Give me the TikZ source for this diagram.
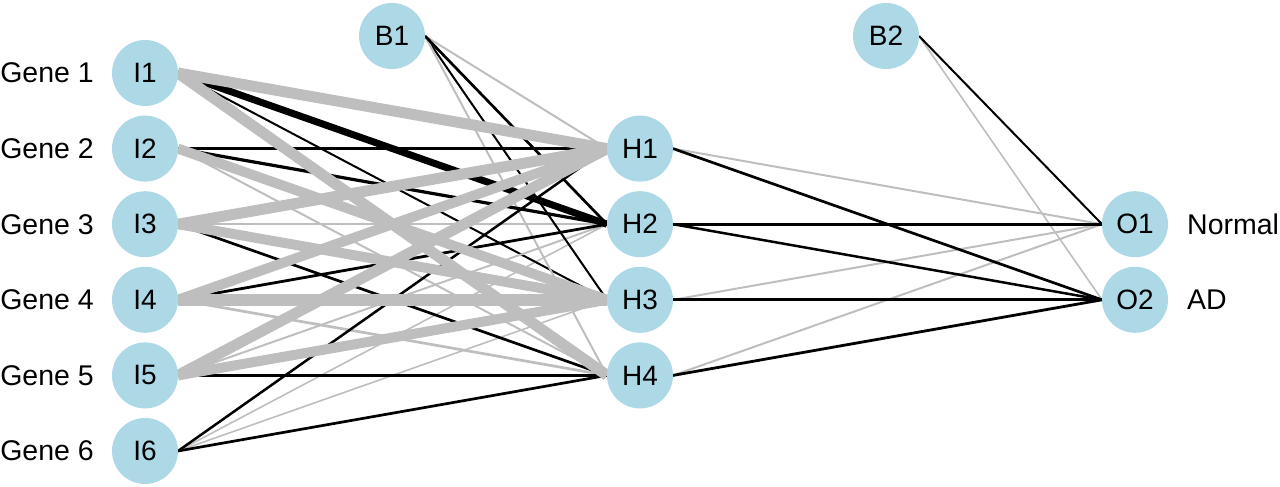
\documentclass[tikz,border=0pt]{standalone}
\usepackage{fontspec}
\setmainfont{Liberation Sans}
\definecolor{nodeblue}{HTML}{ADD8E6}
\definecolor{wgrey}{HTML}{BEBEBE}
\pgfdeclarelayer{bg}
\pgfsetlayers{bg,main}
\tikzset{
  neuron/.style={circle, fill=nodeblue, minimum size=66pt, inner sep=0pt, outer sep=0pt,
    font=\fontsize{28}{30}\selectfont},
  lbl/.style={inner sep=0pt, font=\fontsize{28.5}{30}\selectfont},
  posw/.style={draw=black, line width=#1},
  negw/.style={draw=wgrey, line width=#1},
}
\begin{document}
\begin{tikzpicture}[x=1pt,y=-1pt]
\useasboundingbox (0,0) rectangle (1280,487);
% input nodes
\node[neuron] (I1) at (145,73) {I1};
\node[neuron] (I2) at (145,148.6) {I2};
\node[neuron] (I3) at (145,224.2) {I3};
\node[neuron] (I4) at (145,299.8) {I4};
\node[neuron] (I5) at (145,375.4) {I5};
\node[neuron] (I6) at (145,451) {I6};
% hidden
\node[neuron] (H1) at (640,148.6) {H1};
\node[neuron] (H2) at (640,224.2) {H2};
\node[neuron] (H3) at (640,299.8) {H3};
\node[neuron] (H4) at (640,375.4) {H4};
% outputs
\node[neuron] (O1) at (1135,224.2) {O1};
\node[neuron] (O2) at (1135,299.8) {O2};
% biases
\node[neuron] (B1) at (392,36) {B1};
\node[neuron] (B2) at (886,36) {B2};
% labels
\node[lbl, anchor=east] (g1) at (94,73) {Gene 1};
\node[lbl, anchor=east] (g2) at (94,148.6) {Gene 2};
\node[lbl, anchor=east] (g3) at (94,224.2) {Gene 3};
\node[lbl, anchor=east] (g4) at (94,299.8) {Gene 4};
\node[lbl, anchor=east] (g5) at (94,375.4) {Gene 5};
\node[lbl, anchor=east] (g6) at (94,451) {Gene 6};
\node[lbl, anchor=west] (on) at (1187,224.2) {Normal};
\node[lbl, anchor=west] (oa) at (1187,299.8) {AD};
\begin{pgfonlayer}{bg}
% thinnest
\draw[negw=1.6] (I6.east) -- (H2.west);
\draw[negw=1.6] (I6.east) -- (H3.west);
\draw[negw=1.6] (B2.east) -- (O2.west);
% thin
\draw[posw=2] (I1.east) -- (H3.west);
\draw[negw=2] (I2.east) -- (H4.west);
\draw[negw=2] (I3.east) -- (H2.west);
\draw[negw=2] (I5.east) -- (H2.west);
\draw[negw=2] (B1.east) -- (H1.west);
\draw[posw=2] (B1.east) -- (H3.west);
\draw[negw=2] (B1.east) -- (H4.west);
\draw[negw=2] (H1.east) -- (O1.west);
\draw[posw=2] (B2.east) -- (O1.west);
\draw[negw=2] (H3.east) -- (O1.west);
\draw[negw=2] (H4.east) -- (O1.west);
% medium
\draw[posw=2.7] (I3.east) -- (H4.west);
\draw[posw=2.8] (I4.east) -- (H2.west);
\draw[negw=2.7] (I4.east) -- (H4.west);
\draw[posw=2.5] (I6.east) -- (H1.west);
\draw[posw=2.7] (I6.east) -- (H4.west);
\draw[posw=2.7] (B1.east) -- (H2.west);
\draw[posw=2.7] (H1.east) -- (O2.west);
\draw[posw=2.7] (H2.east) -- (O1.west);
\draw[posw=2.5] (H2.east) -- (O2.west);
\draw[posw=2.8] (H4.east) -- (O2.west);
% medium-thick
\draw[posw=3.2] (I2.east) -- (H1.west);
\draw[posw=3.2] (I2.east) -- (H2.west);
\draw[posw=3.2] (I5.east) -- (H4.west);
\draw[posw=3.2] (H3.east) -- (O2.west);
% thick black
\draw[posw=7] (I1.east) -- (H2.west);
% thick grey
\draw[negw=10] (I2.east) -- (H3.west);
\draw[negw=10] (I3.east) -- (H3.west);
\draw[negw=10] (I4.east) -- (H1.west);
\draw[negw=10] (I5.east) -- (H3.west);
\draw[negw=11] (I1.east) -- (H1.west);
\draw[negw=11] (I1.east) -- (H4.west);
\draw[negw=11] (I3.east) -- (H1.west);
\draw[negw=11] (I5.east) -- (H1.west);
\draw[negw=12.5] (I4.east) -- (H3.west);
\end{pgfonlayer}
\end{tikzpicture}
\end{document}
